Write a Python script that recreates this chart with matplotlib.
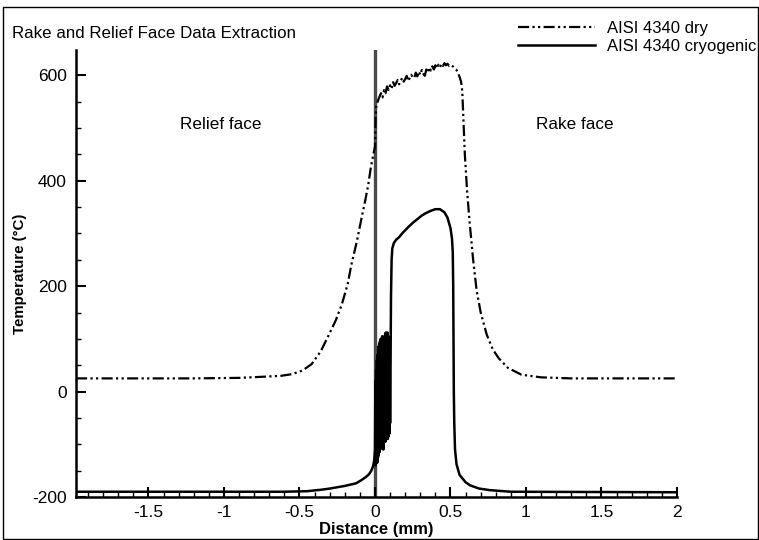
import matplotlib
matplotlib.use("Agg")
import matplotlib.pyplot as plt
from matplotlib.patches import Rectangle
from matplotlib.ticker import MultipleLocator

plt.rcParams['font.family'] = ['Liberation Sans', 'DejaVu Sans']
plt.rcParams['axes.unicode_minus'] = False

# Temperature along the tool faces, dry machining
dry_x = [-1.98, -1.2, -0.9, -0.75, -0.62, -0.55, -0.48, -0.42, -0.36, -0.31,
         -0.26, -0.22, -0.18, -0.157, -0.12, -0.092, -0.065, -0.046, -0.026, -0.012,
         0.0, 0.004, 0.008, 0.015, 0.025, 0.035,
         0.04, 0.05, 0.06, 0.07, 0.08, 0.09, 0.10, 0.11, 0.12, 0.13,
         0.14, 0.15, 0.16, 0.17, 0.18, 0.19, 0.20, 0.21, 0.22, 0.23,
         0.24, 0.25, 0.26, 0.27, 0.28, 0.29, 0.30, 0.31, 0.32, 0.33,
         0.34, 0.35, 0.36, 0.37, 0.38, 0.39, 0.40, 0.41, 0.42, 0.43,
         0.44, 0.45, 0.46, 0.47, 0.48, 0.49, 0.50, 0.52, 0.54, 0.55,
         0.56, 0.57, 0.578, 0.585, 0.595, 0.61, 0.627, 0.65, 0.673, 0.70,
         0.74, 0.78, 0.82, 0.88, 0.97, 1.1, 1.3, 2.0]
dry_y = [25, 25, 26, 28, 30, 33, 40, 52, 76, 105,
         135, 165, 205, 240, 285, 325, 362, 390, 428, 448,
         465, 520, 540, 548, 556, 563,
         566, 558, 572, 566, 579, 572, 581, 575, 587, 580,
         585, 591, 583, 589, 595, 588, 593, 599, 589, 595,
         601, 596, 595, 605, 598, 607, 601, 610, 603, 599,
         611, 605, 615, 609, 617, 611, 619, 613, 620, 615,
         622, 618, 623, 619, 622, 618, 620, 616, 610, 604,
         597, 588, 570, 520, 450, 380, 320, 250, 192, 150,
         108, 80, 63, 45, 32, 27, 25, 25]

# Temperature along the tool faces, cryogenic cooling
cryo_x = [-1.98, -0.6, -0.45, -0.35, -0.3, -0.2, -0.125, -0.09, -0.06, -0.04,
          -0.026, -0.013, -0.005, 0.0,
          0.0025, 0.005, 0.0075, 0.01, 0.0125, 0.015, 0.0175, 0.02, 0.0225, 0.025,
          0.0275, 0.03, 0.0325, 0.035, 0.0375, 0.04, 0.0425, 0.045, 0.0475, 0.05,
          0.0525, 0.055, 0.0575, 0.06, 0.0625, 0.065, 0.0675, 0.07, 0.0725, 0.075,
          0.0775, 0.08, 0.0825, 0.085, 0.0875, 0.09, 0.0925, 0.095, 0.0975,
          0.1, 0.103, 0.106, 0.11, 0.115, 0.125, 0.14, 0.16, 0.18, 0.2,
          0.22, 0.25, 0.28, 0.31, 0.34, 0.37, 0.40, 0.43, 0.46, 0.48,
          0.5, 0.51, 0.515, 0.518, 0.52, 0.522, 0.525, 0.53, 0.54, 0.56,
          0.6, 0.63, 0.69, 0.76, 0.9, 2.0]
cryo_y = [-190, -190, -189, -186, -184, -179, -174, -168, -162, -157,
          -151, -142, -130, -110,
          20, -140, 40, -130, 60, -135, 70, -125, 85, -120,
          90, -115, 95, -110, 100, -105, 100, -105, 105, -100,
          95, -110, 100, -95, 105, -90, 110, -95, 112, -88,
          108, -85, 112, -90, 105, -85, 95, -80, 60,
          -60, 50, 180, 250, 272, 282, 288, 293, 300, 306,
          312, 320, 327, 334, 339, 343, 346, 346, 340, 330,
          310, 290, 265, 200, 100, 0, -60, -110, -138, -158,
          -172, -178, -184, -187, -190, -191]

x_ticks = [-1.5, -1, -0.5, 0, 0.5, 1, 1.5, 2]
x_tick_labels = ['-1.5', '-1', '-0.5', '0', '0.5', '1', '1.5', '2']
y_ticks = [-200, 0, 200, 400, 600]

W, H = 759, 540
fig = plt.figure(figsize=(W / 100, H / 100), dpi=100)
ax = fig.add_axes([76 / W, 1 - 497 / H, (677 - 76) / W, (497 - 50) / H])

ax.axvline(0, color='#4a4a4a', lw=2.4, zorder=1)
ax.plot(dry_x, dry_y, color='black', lw=1.6,
        linestyle=(0, (5, 1.5, 1, 1.5, 1, 1.5)), label='AISI 4340 dry', zorder=3)
ax.plot(cryo_x, cryo_y, color='black', lw=1.8, label='AISI 4340 cryogenic', zorder=3)

ax.set_xlim(-1.98, 2.0)
ax.set_ylim(-200, 648)
ax.set_xticks(x_ticks)
ax.set_xticklabels(x_tick_labels)
ax.set_yticks(y_ticks)
ax.xaxis.set_minor_locator(MultipleLocator(0.1))
ax.yaxis.set_minor_locator(MultipleLocator(50))
ax.tick_params(which='major', direction='in', length=7, width=1.5, labelsize=12.5,
               top=False, right=False)
ax.tick_params(axis='x', which='major', pad=5.5)
ax.tick_params(axis='y', which='major', pad=6.5)
ax.tick_params(which='minor', direction='in', length=3.5, width=1.0,
               top=False, right=False)

for side in ('top', 'right'):
    ax.spines[side].set_visible(False)
for side in ('left', 'bottom'):
    ax.spines[side].set_linewidth(1.8)

ax.set_xlabel('Distance (mm)', fontsize=12, fontweight='bold', labelpad=2)
ax.set_ylabel('Temperature (°C)', fontsize=10.8, fontweight='bold')
ax.yaxis.set_label_coords(-0.0815, 0.5)

ax.text(-1.02, 506, 'Relief face', fontsize=12.3, ha='center', va='center')
ax.text(1.32, 506, 'Rake face', fontsize=12.3, ha='center', va='center')

fig.text(12 / W, 1 - 33 / H, 'Rake and Relief Face Data Extraction',
         fontsize=12.2, ha='left', va='center')

ax.legend(loc='upper left', bbox_to_anchor=(518 / W, 1 - 21 / H),
          bbox_transform=fig.transFigure, frameon=False, fontsize=12,
          handlelength=4.6, handletextpad=0.75, labelspacing=0.2,
          borderpad=0, borderaxespad=0)

fig.patches.append(Rectangle((3 / W, 0.002), 0.995, 1 - 7 / H - 0.002,
                             transform=fig.transFigure, fill=False,
                             edgecolor='black', lw=1.0))

fig.savefig('out.png', dpi=100)
